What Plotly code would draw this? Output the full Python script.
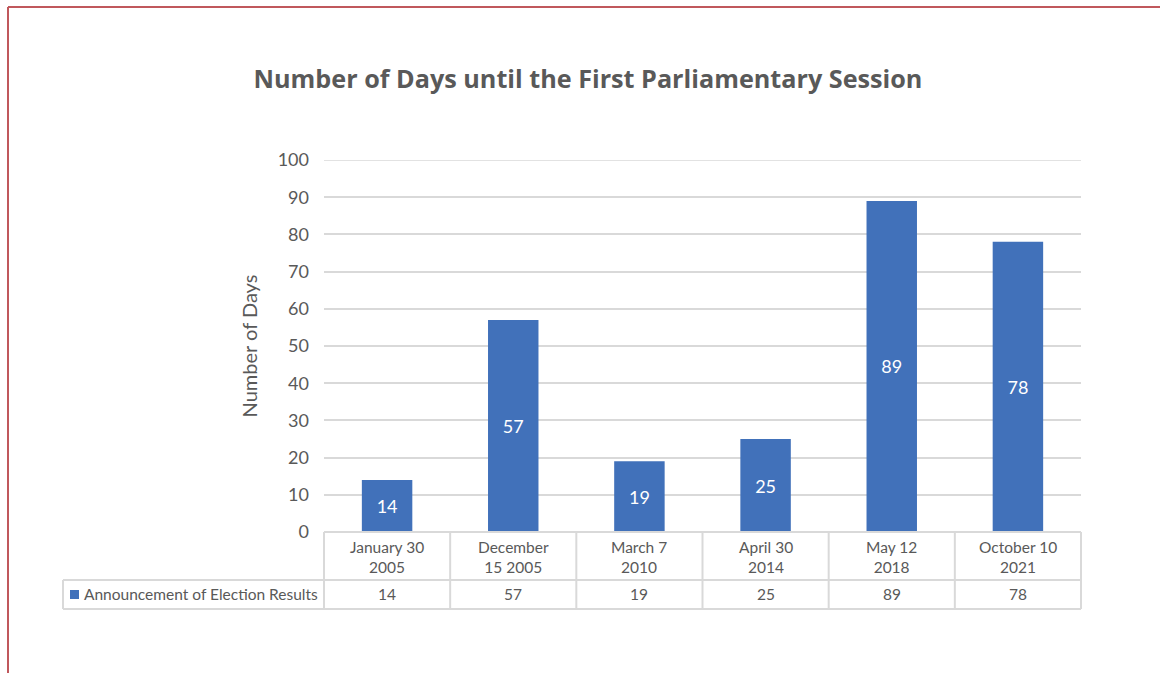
import plotly.graph_objects as go

# Election dates (two-line labels) and days until first parliamentary session
dates = ["January 30<br>2005", "December<br>15 2005", "March 7<br>2010",
         "April 30<br>2014", "May 12<br>2018", "October 10<br>2021"]
days = [14, 57, 19, 25, 89, 78]
series_name = "Announcement of Election Results"
y_ticks = [0, 10, 20, 30, 40, 50, 60, 70, 80, 90, 100]

W, H = 1160, 673
L, R, T, B = 324, 79, 160, 141
plot_w = W - L - R
plot_h = H - T - B

BAR = "#4171BA"
GRID = "#D9D9D9"
TXT = "#595959"
FONT = "Lato, Open Sans, sans-serif"


def px_x(px):
    return (px - L) / plot_w


def px_y(py):
    return (H - B - py) / plot_h


fig = go.Figure(go.Bar(
    x=list(range(len(days))), y=days, width=0.4,
    marker=dict(color=BAR, line=dict(width=0)),
    text=[str(v) for v in days], textposition="inside",
    insidetextanchor="middle",
    textfont=dict(color="white", size=18, family=FONT),
    name=series_name, showlegend=False,
))

n = len(days)
shapes = []
annotations = []

# top gridline sits on the axis edge, so draw it explicitly
shapes.append(dict(type="line", xref="paper", yref="y", x0=0, x1=1,
                   y0=y_ticks[-1], y1=y_ticks[-1],
                   line=dict(color=GRID, width=1.5)))

# data table below the plot: column borders and row separators
row1 = px_y(580)
row2 = px_y(609)
line = dict(color=GRID, width=2)
for k in range(n + 1):
    shapes.append(dict(type="line", xref="paper", yref="paper",
                       x0=k / n, x1=k / n, y0=0, y1=row2, line=line))
shapes.append(dict(type="line", xref="paper", yref="paper",
                   x0=px_x(63), x1=1, y0=row1, y1=row1, line=line))
shapes.append(dict(type="line", xref="paper", yref="paper",
                   x0=px_x(63), x1=1, y0=row2, y1=row2, line=line))
shapes.append(dict(type="line", xref="paper", yref="paper",
                   x0=px_x(63), x1=px_x(63), y0=row1, y1=row2, line=line))
shapes.append(dict(type="line", xref="paper", yref="paper",
                   x0=0, x1=1, y0=0, y1=0, line=line))
# legend key in the table
shapes.append(dict(type="rect", xref="paper", yref="paper",
                   x0=px_x(70), x1=px_x(79), y0=px_y(599), y1=px_y(590),
                   fillcolor=BAR, line=dict(width=0)))

tfont = dict(size=15.5, color=TXT, family=FONT)
for i, (d, v) in enumerate(zip(dates, days)):
    annotations.append(dict(x=i, xref="x", y=px_y(557), yref="paper",
                            xanchor="center", yanchor="middle",
                            text=d, showarrow=False, font=tfont))
    annotations.append(dict(x=i, xref="x", y=px_y(594), yref="paper",
                            xanchor="center", yanchor="middle",
                            text=str(v), showarrow=False, font=tfont))
annotations.append(dict(x=px_x(82), xref="paper", y=px_y(594), yref="paper",
                        xanchor="left", yanchor="middle", text=series_name,
                        showarrow=False, font=tfont))

# frame lines along the top and left edge
border = dict(color="#C0585C", width=2)
shapes.append(dict(type="line", xref="paper", yref="paper",
                   x0=px_x(8), x1=px_x(W + 5), y0=px_y(7), y1=px_y(7), line=border))
shapes.append(dict(type="line", xref="paper", yref="paper",
                   x0=px_x(8), x1=px_x(8), y0=px_y(7), y1=px_y(H + 5), line=border))

fig.update_layout(
    width=W, height=H,
    margin=dict(l=L, r=R, t=T, b=B),
    paper_bgcolor="white", plot_bgcolor="white",
    title=dict(text="<b>Number of Days until the First Parliamentary Session</b>",
               x=588 / W, xanchor="center", xref="container",
               y=1 - 79 / H, yanchor="middle", yref="container",
               font=dict(size=25.2, color=TXT, family="Open Sans, sans-serif")),
    xaxis=dict(range=[-0.5, n - 0.5], showticklabels=False, showgrid=False,
               zeroline=False, showline=False, ticks=""),
    yaxis=dict(range=[0, 100], tickvals=y_ticks, showgrid=True,
               gridcolor=GRID, gridwidth=1.5, zeroline=False, showline=False,
               ticks="", ticklabelstandoff=14,
               tickfont=dict(size=18, color=TXT, family=FONT),
               title=dict(text="Number of Days", standoff=14,
                          font=dict(size=20, color=TXT, family=FONT))),
    shapes=shapes, annotations=annotations,
    bargap=0.6,
)

fig.write_html("out.html")
